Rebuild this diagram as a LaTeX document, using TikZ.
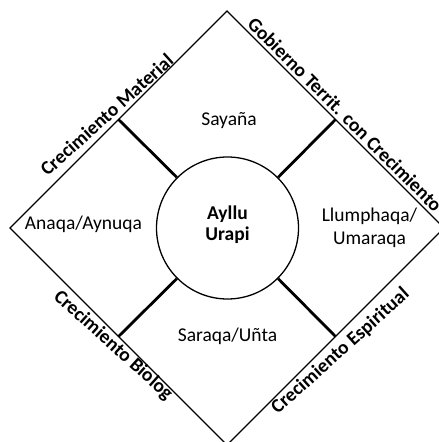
\documentclass[tikz,border=0pt]{standalone}
\usepackage{fontspec}
\setmainfont{Carlito}
\begin{document}
\begin{tikzpicture}[x=1pt,y=1pt,
  edgeline/.style={line width=1.3pt, line join=miter},
  spoke/.style={line width=2.8pt},
  lbl/.style={font=\fontsize{19.5}{23.5}\selectfont, inner sep=0pt, align=center},
  elbl/.style={font=\bfseries\fontsize{19.5}{23.5}\selectfont, inner sep=0pt}]
\useasboundingbox (0,0) rectangle (439,442);
\clip (0,0) rectangle (439,442);
\coordinate (T) at (227,431);
\coordinate (L) at (10,214);
\coordinate (B) at (227,-3);
\coordinate (R) at (444,214);
\coordinate (m1) at (118.5,322.5);
\coordinate (m2) at (335.5,322.5);
\coordinate (m3) at (118.5,105.5);
\coordinate (m4) at (335.5,105.5);
\draw[edgeline] (T) -- (R) -- (B) -- (L) -- cycle;
\node[circle, draw, line width=1.3pt, minimum size=142pt, inner sep=0pt] (c) at (227.5,214) {};
\node[lbl, font=\bfseries\fontsize{19.5}{23.5}\selectfont] (ct) at (227.5,217) {Ayllu\\[-2.8pt]Urapi};
\draw[spoke] (c.135) -- (m1);
\draw[spoke] (c.45) -- (m2);
\draw[spoke] (c.225) -- (m3);
\draw[spoke] (c.315) -- (m4);
\node[elbl, anchor=south, rotate=42] (e1) at ([shift={(-7,-0.5)}]m1) {Crecimiento Material};
\node[elbl, anchor=south, rotate=-45] (e2) at ([shift={(4.5,0)}]m2) {Gobierno Territ. con Crecimiento};
\node[elbl, anchor=north, rotate=-42] (e3) at ([shift={(0.3,-2.5)}]m3) {Crecimiento Biolog};
\node[elbl, anchor=north, rotate=42] (e4) at ([shift={(-0.7,-8.5)}]m4) {Crecimiento Espiritual};
\node[lbl, anchor=base] (s1) at (229,316) {Sayaña};
\node[lbl, anchor=base] (s3) at (227.5,100.3) {Saraqa/Uñta};
\node[lbl, anchor=base] (s4) at (83.5,212.7) {Anaqa/Aynuqa};
\node[lbl] (s2) at (369.5,214) {Llumphaqa/\\Umaraqa};
\end{tikzpicture}
\end{document}
